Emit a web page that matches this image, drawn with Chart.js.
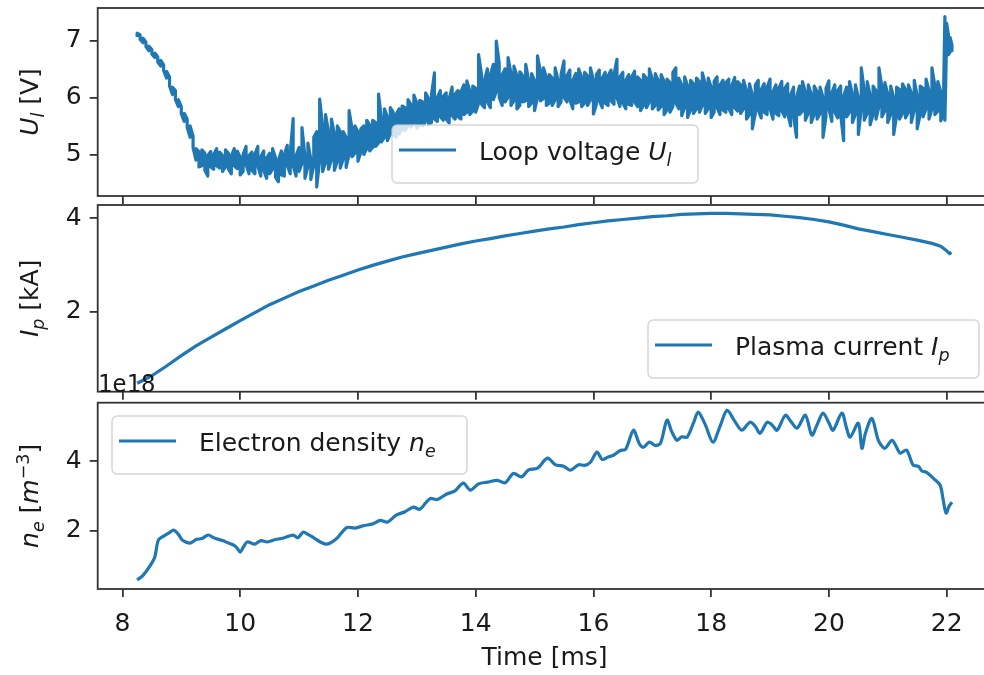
<!DOCTYPE html>
<html lang="en">
<head>
    <meta charset="UTF-8">
    <title>Loop voltage, plasma current, electron density</title>
    <script src="https://cdn.jsdelivr.net/npm/chart.js"></script>
    <style>
        html, body { margin: 0; padding: 0; overflow: hidden; background: #fff; }
        #wrap { position: relative; width: 984px; height: 675px; overflow: hidden; }
        #wrap canvas { position: absolute; left: 0; top: 0; }
    </style>
</head>
<body>
<div id="wrap">
    <canvas id="voltageChart" width="1000" height="675"></canvas>
    <canvas id="currentChart" width="1000" height="675"></canvas>
    <canvas id="densityChart" width="1000" height="675"></canvas>
</div>
<script>
// ---- data ----
// loop voltage U_l [V]: the trace is a dense noisy band, so it is read as
// the lowest and highest value seen in each 0.05 ms slot
const voltageTime = [
    8.25, 8.30, 8.35, 8.40, 8.45, 8.50, 8.55, 8.60, 8.65, 8.70,
    8.75, 8.80, 8.85, 8.90, 8.95, 9.00, 9.05, 9.10, 9.15, 9.20,
    9.25, 9.30, 9.35, 9.40, 9.45, 9.50, 9.55, 9.60, 9.65, 9.70,
    9.75, 9.80, 9.85, 9.90, 9.95, 10.00, 10.05, 10.10, 10.15, 10.20,
    10.25, 10.30, 10.35, 10.40, 10.45, 10.50, 10.55, 10.60, 10.65, 10.70,
    10.75, 10.80, 10.85, 10.90, 10.95, 11.00, 11.05, 11.10, 11.15, 11.20,
    11.25, 11.30, 11.35, 11.40, 11.45, 11.50, 11.55, 11.60, 11.65, 11.70,
    11.75, 11.80, 11.85, 11.90, 11.95, 12.00, 12.05, 12.10, 12.15, 12.20,
    12.25, 12.30, 12.35, 12.40, 12.45, 12.50, 12.55, 12.60, 12.65, 12.70,
    12.75, 12.80, 12.85, 12.90, 12.95, 13.00, 13.05, 13.10, 13.15, 13.20,
    13.25, 13.30, 13.35, 13.40, 13.45, 13.50, 13.55, 13.60, 13.65, 13.70,
    13.75, 13.80, 13.85, 13.90, 13.95, 14.00, 14.05, 14.10, 14.15, 14.20,
    14.25, 14.30, 14.35, 14.40, 14.45, 14.50, 14.55, 14.60, 14.65, 14.70,
    14.75, 14.80, 14.85, 14.90, 14.95, 15.00, 15.05, 15.10, 15.15, 15.20,
    15.25, 15.30, 15.35, 15.40, 15.45, 15.50, 15.55, 15.60, 15.65, 15.70,
    15.75, 15.80, 15.85, 15.90, 15.95, 16.00, 16.05, 16.10, 16.15, 16.20,
    16.25, 16.30, 16.35, 16.40, 16.45, 16.50, 16.55, 16.60, 16.65, 16.70,
    16.75, 16.80, 16.85, 16.90, 16.95, 17.00, 17.05, 17.10, 17.15, 17.20,
    17.25, 17.30, 17.35, 17.40, 17.45, 17.50, 17.55, 17.60, 17.65, 17.70,
    17.75, 17.80, 17.85, 17.90, 17.95, 18.00, 18.05, 18.10, 18.15, 18.20,
    18.25, 18.30, 18.35, 18.40, 18.45, 18.50, 18.55, 18.60, 18.65, 18.70,
    18.75, 18.80, 18.85, 18.90, 18.95, 19.00, 19.05, 19.10, 19.15, 19.20,
    19.25, 19.30, 19.35, 19.40, 19.45, 19.50, 19.55, 19.60, 19.65, 19.70,
    19.75, 19.80, 19.85, 19.90, 19.95, 20.00, 20.05, 20.10, 20.15, 20.20,
    20.25, 20.30, 20.35, 20.40, 20.45, 20.50, 20.55, 20.60, 20.65, 20.70,
    20.75, 20.80, 20.85, 20.90, 20.95, 21.00, 21.05, 21.10, 21.15, 21.20,
    21.25, 21.30, 21.35, 21.40, 21.45, 21.50, 21.55, 21.60, 21.65, 21.70,
    21.75, 21.80, 21.85, 21.90, 21.95, 21.97, 22.00, 22.03, 22.06, 22.09
];
const voltageLow = [
    7.06, 7.02, 6.96, 6.89, 6.82, 6.76, 6.70, 6.62, 6.55, 6.47,
    6.34, 6.20, 6.05, 5.96, 5.84, 5.71, 5.58, 5.47, 5.30, 5.12,
    4.90, 4.78, 4.80, 4.72, 4.62, 4.78, 4.74, 4.80, 4.76, 4.70,
    4.78, 4.74, 4.66, 4.80, 4.75, 4.64, 4.70, 4.82, 4.66, 4.72,
    4.66, 4.80, 4.62, 4.72, 4.58, 4.66, 4.74, 4.60, 4.52, 4.64,
    4.62, 4.80, 4.66, 4.80, 4.62, 4.70, 4.84, 4.58, 4.78, 4.56,
    4.80, 4.43, 4.90, 4.70, 4.86, 4.74, 4.90, 4.72, 4.88, 4.76,
    4.92, 4.77, 5.00, 4.96, 5.02, 4.88, 5.04, 5.00, 5.10, 5.06,
    5.12, 5.14, 5.20, 5.22, 5.30, 5.24, 5.36, 5.34, 5.30, 5.36,
    5.44, 5.42, 5.50, 5.48, 5.55, 5.46, 5.52, 5.50, 5.58, 5.52,
    5.56, 5.62, 5.58, 5.66, 5.60, 5.62, 5.55, 5.68, 5.62, 5.66,
    5.62, 5.70, 5.74, 5.70, 5.76, 5.74, 5.90, 5.88, 5.82, 5.92,
    5.82, 5.96, 6.10, 6.00, 5.86, 5.92, 6.00, 5.86, 5.94, 5.80,
    5.86, 5.92, 5.94, 5.84, 5.90, 5.77, 6.00, 5.94, 5.98, 5.86,
    5.90, 5.86, 5.96, 5.84, 5.92, 6.00, 5.92, 5.96, 5.80, 5.90,
    5.92, 5.84, 5.90, 5.86, 5.96, 5.71, 5.88, 5.94, 5.82, 5.90,
    5.86, 5.94, 5.88, 6.00, 5.84, 5.90, 5.80, 5.88, 5.86, 5.92,
    5.84, 5.77, 5.86, 5.82, 5.92, 5.80, 5.86, 5.78, 5.84, 5.70,
    5.78, 5.74, 5.84, 5.90, 5.80, 5.68, 5.82, 5.65, 5.78, 5.72,
    5.80, 5.74, 5.86, 5.72, 5.80, 5.65, 5.74, 5.82, 5.70, 5.78,
    5.74, 5.80, 5.70, 5.82, 5.76, 5.72, 5.80, 5.62, 5.70, 5.45,
    5.72, 5.78, 5.64, 5.74, 5.70, 5.80, 5.62, 5.72, 5.68, 5.76,
    5.66, 5.72, 5.50, 5.68, 5.30, 5.70, 5.76, 5.60, 5.72, 5.56,
    5.70, 5.62, 5.72, 5.30, 5.66, 5.80, 5.58, 5.74, 5.64, 5.70,
    5.24, 5.66, 5.74, 5.56, 5.70, 5.35, 5.80, 5.60, 5.72, 5.52,
    5.70, 5.62, 5.84, 5.66, 5.76, 5.56, 5.70, 5.35, 5.68, 5.62,
    5.72, 5.64, 5.74, 5.56, 5.78, 5.45, 5.70, 5.66, 5.80, 5.62,
    5.80, 5.70, 5.76, 5.59, 5.70, 5.60, 7.05, 6.75, 6.80, 6.82
];
const voltageHigh = [
    7.13, 7.10, 7.04, 6.97, 6.90, 6.84, 6.78, 6.71, 6.65, 6.57,
    6.46, 6.36, 6.18, 6.12, 5.96, 5.84, 5.72, 5.62, 5.50, 5.32,
    5.10, 5.05, 5.08, 5.02, 4.98, 5.05, 5.00, 5.10, 5.04, 4.98,
    5.08, 5.02, 4.98, 5.10, 5.06, 4.95, 5.00, 5.14, 4.98, 5.04,
    5.00, 5.14, 4.96, 5.06, 4.94, 5.02, 5.10, 4.94, 4.90, 5.06,
    5.00, 5.16, 5.02, 5.63, 4.98, 5.12, 5.47, 4.96, 5.20, 4.92,
    5.30, 5.40, 5.97, 5.50, 5.70, 5.40, 5.62, 5.36, 5.50, 5.40,
    5.40, 5.30, 5.77, 5.45, 5.50, 5.40, 5.45, 5.50, 5.60, 5.52,
    5.60, 5.56, 6.06, 5.62, 5.80, 5.66, 5.82, 5.74, 5.70, 5.80,
    5.85, 5.82, 5.96, 5.88, 6.04, 5.90, 5.95, 5.92, 6.08, 5.98,
    6.05, 6.43, 6.00, 6.12, 6.02, 6.08, 5.98, 6.18, 6.06, 6.12,
    6.10, 6.22, 6.29, 6.12, 6.20, 6.16, 6.75, 6.40, 6.30, 6.50,
    6.40, 6.58, 6.99, 6.60, 6.40, 6.50, 6.70, 6.42, 6.55, 6.38,
    6.45, 6.38, 6.58, 6.30, 6.42, 6.30, 6.73, 6.45, 6.52, 6.36,
    6.40, 6.34, 6.52, 6.30, 6.40, 6.64, 6.38, 6.48, 6.30, 6.42,
    6.50, 6.36, 6.44, 6.38, 6.52, 6.30, 6.40, 6.48, 6.34, 6.44,
    6.38, 6.48, 6.40, 6.67, 6.36, 6.44, 6.30, 6.40, 6.36, 6.46,
    6.36, 6.30, 6.40, 6.34, 6.50, 6.32, 6.42, 6.30, 6.40, 6.28,
    6.32, 6.26, 6.44, 6.52, 6.34, 6.22, 6.36, 6.20, 6.30, 6.24,
    6.34, 6.28, 6.43, 6.24, 6.34, 6.18, 6.28, 6.36, 6.22, 6.30,
    6.26, 6.32, 6.20, 6.35, 6.28, 6.22, 6.30, 6.12, 6.24, 6.05,
    6.22, 6.30, 6.14, 6.24, 6.18, 6.32, 6.10, 6.22, 6.16, 6.28,
    6.16, 6.24, 6.04, 6.18, 6.00, 6.20, 6.28, 6.10, 6.22, 6.06,
    6.20, 6.10, 6.18, 6.00, 6.16, 6.29, 6.08, 6.22, 6.12, 6.20,
    6.02, 6.18, 6.28, 6.06, 6.22, 6.00, 6.52, 6.12, 6.28, 6.04,
    6.20, 6.12, 6.52, 6.18, 6.26, 6.06, 6.20, 6.00, 6.18, 6.14,
    6.24, 6.14, 6.22, 6.08, 6.30, 6.02, 6.20, 6.16, 6.32, 6.12,
    6.52, 6.20, 6.28, 6.10, 6.24, 7.42, 7.30, 7.10, 7.05, 6.92
];

// plasma current I_p [kA]
const currentTime = [
    8.25, 8.50, 8.75, 9.00, 9.25, 9.50, 9.75, 10.00, 10.25, 10.50,
    10.75, 11.00, 11.25, 11.50, 11.75, 12.00, 12.25, 12.50, 12.75, 13.00,
    13.25, 13.50, 13.75, 14.00, 14.25, 14.50, 14.75, 15.00, 15.25, 15.50,
    15.75, 16.00, 16.25, 16.50, 16.75, 17.00, 17.25, 17.50, 17.75, 18.00,
    18.25, 18.50, 18.75, 19.00, 19.25, 19.50, 19.75, 20.00, 20.25, 20.50,
    20.75, 21.00, 21.25, 21.50, 21.75, 21.90, 22.00, 22.05, 22.08
];
const current = [
    0.47, 0.63, 0.84, 1.06, 1.27, 1.45, 1.63, 1.81, 1.98, 2.15,
    2.29, 2.43, 2.55, 2.67, 2.78, 2.89, 2.99, 3.08, 3.17, 3.24,
    3.31, 3.38, 3.45, 3.51, 3.56, 3.62, 3.67, 3.72, 3.77, 3.81,
    3.86, 3.90, 3.94, 3.97, 4.00, 4.03, 4.05, 4.08, 4.09, 4.10,
    4.10, 4.09, 4.08, 4.07, 4.04, 4.01, 3.97, 3.92, 3.85, 3.77,
    3.71, 3.65, 3.59, 3.53, 3.46, 3.40, 3.30, 3.24, 3.27
];

// electron density n_e [1e18 m^-3]
const densityTime = [
    8.25, 8.35, 8.48, 8.55, 8.61, 8.70, 8.80, 8.87, 8.95, 9.02,
    9.15, 9.25, 9.35, 9.46, 9.55, 9.70, 9.80, 9.89, 9.95, 10.00,
    10.06, 10.12, 10.25, 10.35, 10.46, 10.60, 10.75, 10.90, 10.98, 11.07,
    11.15, 11.25, 11.36, 11.45, 11.53, 11.65, 11.75, 11.82, 11.95, 12.10,
    12.25, 12.38, 12.50, 12.65, 12.80, 12.94, 13.05, 13.15, 13.23, 13.35,
    13.50, 13.65, 13.79, 13.91, 14.05, 14.20, 14.37, 14.50, 14.64, 14.78,
    14.90, 15.05, 15.22, 15.35, 15.50, 15.61, 15.75, 15.85, 15.95, 16.06,
    16.15, 16.25, 16.34, 16.45, 16.55, 16.68, 16.78, 16.85, 16.95, 17.05,
    17.14, 17.25, 17.33, 17.42, 17.50, 17.59, 17.70, 17.78, 17.90, 18.03,
    18.15, 18.27, 18.40, 18.52, 18.66, 18.75, 18.83, 18.95, 19.03, 19.12,
    19.26, 19.35, 19.46, 19.60, 19.71, 19.80, 19.90, 20.00, 20.07, 20.22,
    20.30, 20.36, 20.50, 20.56, 20.62, 20.73, 20.84, 20.95, 21.07, 21.15,
    21.21, 21.32, 21.43, 21.52, 21.58, 21.66, 21.78, 21.89, 21.94, 21.99,
    22.04, 22.09
];
const density = [
    0.59, 0.72, 1.02, 1.25, 1.73, 1.85, 1.95, 2.02, 1.90, 1.73,
    1.65, 1.75, 1.78, 1.88, 1.80, 1.72, 1.65, 1.59, 1.50, 1.39,
    1.55, 1.68, 1.62, 1.72, 1.68, 1.75, 1.80, 1.88, 1.80, 1.96,
    1.90, 1.80, 1.68, 1.62, 1.65, 1.80, 2.00, 2.10, 2.08, 2.15,
    2.20, 2.30, 2.25, 2.45, 2.55, 2.68, 2.62, 2.80, 2.93, 2.90,
    3.05, 3.15, 3.37, 3.17, 3.35, 3.40, 3.45, 3.38, 3.65, 3.55,
    3.75, 3.80, 4.09, 3.90, 3.85, 3.74, 3.90, 3.88, 3.97, 4.26,
    4.05, 4.12, 4.17, 4.30, 4.35, 4.89, 4.50, 4.40, 4.55, 4.45,
    4.52, 5.18, 4.85, 4.60, 4.70, 4.69, 5.10, 5.41, 5.05, 4.55,
    5.00, 5.46, 5.15, 4.89, 5.12, 5.00, 4.80, 5.12, 5.05, 4.89,
    5.32, 5.15, 4.95, 5.32, 4.75, 5.05, 5.38, 5.10, 4.89, 5.38,
    4.95, 4.69, 5.09, 4.37, 4.80, 5.23, 4.60, 4.37, 4.60, 4.40,
    4.23, 4.32, 3.89, 3.85, 3.72, 3.68, 3.50, 3.31, 2.90, 2.51,
    2.70, 2.82
];

const timeTicks = [8, 10, 12, 14, 16, 18, 20, 22];

// ---- look ----
const FONT = 'DejaVu Sans';
const INK = '#1a1a1a';
const SPINE = '#333333';
const BLUE = '#1f77b4';
const CANVAS_W = 1000, CANVAS_H = 675;
const PLOT_LEFT = 97.7, PLOT_RIGHT = 991.4;
const FS = 25;

// draw a run of text pieces: [text, style] with style '', 'i', 'isub', 'sup'
function drawRich(ctx, parts, x, y, size, center) {
    const pieces = parts.map(([t, st]) => {
        const small = st === 'isub' || st === 'sub' || st === 'sup';
        const italic = st === 'i' || st === 'isub';
        const fs = small ? size * 0.7 : size;
        const font = (italic ? 'italic ' : '') + fs + 'px "' + FONT + '"';
        ctx.font = font;
        const dy = (st === 'isub' || st === 'sub') ? size * 0.22 : st === 'sup' ? -size * 0.38 : 0;
        return { t, font, dy, w: ctx.measureText(t).width };
    });
    const total = pieces.reduce((s, p) => s + p.w, 0);
    let cx = center ? x - total / 2 : x;
    ctx.textAlign = 'left';
    ctx.textBaseline = 'alphabetic';
    for (const p of pieces) {
        ctx.font = p.font;
        ctx.fillText(p.t, cx, y + p.dy);
        cx += p.w;
    }
    return total;
}

const panelDecor = {
    id: 'panelDecor',
    afterDraw(chart, args, opts) {
        const { ctx, chartArea: a } = chart;
        ctx.save();

        // legend box
        const lg = opts.legend;
        ctx.beginPath();
        ctx.roundRect(lg.x, lg.y, lg.w, 58, 5);
        ctx.fillStyle = 'rgba(255,255,255,0.8)';
        ctx.fill();
        ctx.strokeStyle = 'rgba(204,204,204,0.8)';
        ctx.lineWidth = 1.5;
        ctx.stroke();
        ctx.strokeStyle = BLUE;
        ctx.lineWidth = 3.2;
        ctx.beginPath();
        ctx.moveTo(lg.x + 7, lg.y + 25);
        ctx.lineTo(lg.x + 64, lg.y + 25);
        ctx.stroke();
        ctx.fillStyle = INK;
        drawRich(ctx, lg.text, lg.x + 87, lg.y + 35, FS, false);

        // spines
        ctx.strokeStyle = SPINE;
        ctx.lineWidth = 1.8;
        ctx.strokeRect(a.left, a.top, a.right - a.left, a.bottom - a.top);

        // y label, rotated
        ctx.save();
        ctx.translate(38, (a.top + a.bottom) / 2);
        ctx.rotate(-Math.PI / 2);
        drawRich(ctx, opts.ylabel, 0, 0, FS, true);
        ctx.restore();

        if (opts.xlabel) {
            ctx.font = FS + 'px "' + FONT + '"';
            ctx.textAlign = 'center';
            ctx.fillText(opts.xlabel, (a.left + a.right) / 2, 665);
        }
        if (opts.offsetText) {
            ctx.font = '24px "DejaVu Sans Mono", monospace';
            ctx.textAlign = 'left';
            ctx.fillText(opts.offsetText, a.left, a.top - 11);
        }
        ctx.restore();
    }
};

// a band series is drawn as a vertical stroke per slot, low->high then high->low
function bandPoints(xs, lo, hi) {
    const pts = [];
    xs.forEach((t, i) => {
        if (i % 2 === 0) { pts.push({ x: t, y: lo[i] }, { x: t, y: hi[i] }); }
        else { pts.push({ x: t, y: hi[i] }, { x: t, y: lo[i] }); }
    });
    return pts;
}

function makePanel(id, points, box, yRange, yStep, showX, tension, decor) {
    const axisH = showX ? 60 : 0;
    return new Chart(document.getElementById(id), {
        type: 'line',
        data: {
            datasets: [{
                data: points,
                borderColor: BLUE,
                borderWidth: 3.2,
                borderJoinStyle: 'round',
                pointRadius: 0,
                tension: tension,
                fill: false
            }]
        },
        options: {
            responsive: false,
            animation: false,
            devicePixelRatio: 1,
            events: [],
            layout: { padding: { left: 0, right: CANVAS_W - PLOT_RIGHT, top: box.top, bottom: CANVAS_H - box.bottom - axisH } },
            plugins: { legend: { display: false }, tooltip: { enabled: false }, panelDecor: decor },
            scales: {
                x: {
                    type: 'linear',
                    min: 7.58,
                    max: 22.76,
                    afterBuildTicks: s => { s.ticks = timeTicks.map(v => ({ value: v })); },
                    ticks: { display: showX, color: INK, font: { family: FONT, size: FS }, padding: 12, maxRotation: 0, autoSkip: false },
                    grid: { drawOnChartArea: false, drawTicks: true, tickLength: 8, color: SPINE, lineWidth: 1.8 },
                    border: { display: false },
                    afterFit: s => { s.height = axisH; s.paddingLeft = 0; s.paddingRight = 0; }
                },
                y: {
                    min: yRange[0],
                    max: yRange[1],
                    ticks: { stepSize: yStep, includeBounds: false, color: INK, font: { family: FONT, size: FS }, padding: 8 },
                    grid: { drawOnChartArea: false, drawTicks: true, tickLength: 8, color: SPINE, lineWidth: 1.8 },
                    border: { display: false },
                    afterFit: s => { s.width = PLOT_LEFT; s.paddingTop = 0; s.paddingBottom = 0; }
                }
            }
        },
        plugins: [panelDecor]
    });
}

makePanel('voltageChart', bandPoints(voltageTime, voltageLow, voltageHigh),
    { top: 8, bottom: 196 }, [4.27, 7.57], 1, false, 0, {
    legend: { x: 392, y: 125, w: 306, text: [['Loop voltage ', ''], ['U', 'i'], ['l', 'isub']] },
    ylabel: [['U', 'i'], ['l', 'isub'], [' [V]', '']]
});

makePanel('currentChart', currentTime.map((t, i) => ({ x: t, y: current[i] })),
    { top: 205, bottom: 391.7 }, [0.29, 4.28], 2, false, 0, {
    legend: { x: 648, y: 320, w: 331, text: [['Plasma current ', ''], ['I', 'i'], ['p', 'isub']] },
    ylabel: [['I', 'i'], ['p', 'isub'], [' [kA]', '']]
});

makePanel('densityChart', densityTime.map((t, i) => ({ x: t, y: density[i] })),
    { top: 402.7, bottom: 589 }, [0.33, 5.68], 2, true, 0.3, {
    legend: { x: 112, y: 416, w: 355, text: [['Electron density ', ''], ['n', 'i'], ['e', 'isub']] },
    ylabel: [['n', 'i'], ['e', 'isub'], [' [', ''], ['m', 'i'], ['\u22123', 'sup'], [']', '']],
    xlabel: 'Time [ms]',
    offsetText: '1e18'
});
</script>
</body>
</html>
